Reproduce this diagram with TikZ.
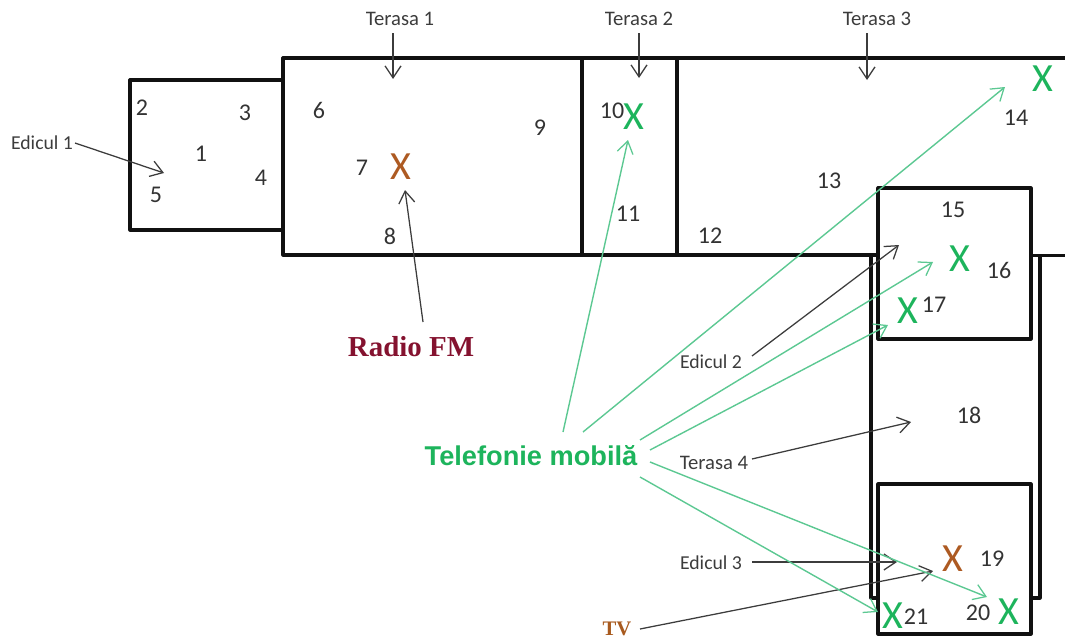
\documentclass[tikz,border=0pt]{standalone}
\usepackage{fontspec}
\setmainfont{Carlito}
\newfontfamily\arialf{Liberation Sans}
\newfontfamily\timesf{Liberation Serif}
\usetikzlibrary{arrows.meta}
\definecolor{wall}{HTML}{111111}
\definecolor{ink}{HTML}{3C3C3C}
\definecolor{numink}{HTML}{333333}
\definecolor{telgreen}{HTML}{5CC892}
\definecolor{xgreen}{HTML}{1DB45C}
\definecolor{xbrown}{HTML}{AD5A22}
\definecolor{tvbrown}{HTML}{A85A1E}
\definecolor{fmred}{HTML}{84122F}
\tikzset{
  x=0.75pt,y=-0.75pt,
  wallline/.style={draw=wall,line width=2.4pt,line join=round},
  thinwall/.style={draw=wall,line width=2.4pt,line join=round},
  stubwall/.style={draw=wall,line width=1.7pt},
  num/.style={text=numink,font=\fontsize{18}{19}\selectfont,inner sep=0pt,yshift=0.5pt},
  lab/.style={text=ink,font=\fontsize{14.8}{16}\selectfont,inner sep=0pt},
  terlab/.style={text=ink,font=\fontsize{15.5}{16}\selectfont,inner sep=0pt},
  markg/.style={text=xgreen,font=\fontsize{30}{31}\selectfont,inner sep=0pt},
  markb/.style={text=xbrown,font=\fontsize{30}{31}\selectfont,inner sep=0pt},
  blackarrow/.style={draw=ink,line width=0.95pt,-{Straight Barb[length=9pt,width=12pt,line width=0.95pt]}},
  greenarrow/.style={draw=telgreen,line width=1.05pt,-{Straight Barb[length=9pt,width=12pt,line width=0.95pt]}},
}
\begin{document}
\begin{tikzpicture}
\useasboundingbox (0,0) rectangle (1065,639);
% walls
\draw[wallline] (283,80) -- (130,80) -- (130,230) -- (283,230);
\draw[wallline] (1065,58) -- (283,58) -- (283,255) -- (878,255);
\draw[stubwall] (1031,255.5) -- (1065,255.5);
\draw[thinwall] (582,58) -- (582,255);
\draw[thinwall] (677,58) -- (677,255);
\draw[thinwall] (878,598) -- (871,598) -- (871,255);
\draw[thinwall] (1031,598) -- (1040,598) -- (1040,255);
\draw[wallline,fill=none] (878,188) rectangle (1031,339);
\draw[wallline,fill=none] (878,484) rectangle (1031,634);
% room numbers
\foreach \n/\px/\py in {1/201/154,2/142/108,3/245/113,4/261/178,5/156/196,6/319/111,7/362/168,8/390/237,9/540/128,10/612/111,11/628/214,12/710/236,13/829/181,14/1016/118,15/953/211,16/999/271,17/934/305,18/969/416,19/992/559,20/978/613,21/916/617}
  \node[num] (n\n) at (\px,\py) {\n};
% marks
\node[markb] (fmx) at (401,167) {X};
\node[markg] (gx1) at (634,117) {X};
\node[markg] (gx2) at (1043,79) {X};
\node[markg] (gx3) at (960,259) {X};
\node[markg] (gx4) at (908,311) {X};
\node[markb] (tvx) at (953,559) {X};
\node[markg] (gx5) at (893,616) {X};
\node[markg] (gx6) at (1009,612) {X};
% labels
\node[lab] (e1) at (42,143) {Edicul 1};
\node[terlab] (t1) at (400,19) {Terasa 1};
\node[terlab] (t2) at (639,19) {Terasa 2};
\node[terlab] (t3) at (877,19) {Terasa 3};
\node[lab] (e2) at (711,362) {Edicul 2};
\node[terlab] (t4) at (714,463) {Terasa 4};
\node[lab] (e3) at (711,563) {Edicul 3};
\node[inner sep=0pt,text=fmred,font=\timesf\bfseries\fontsize{21.7}{22}\selectfont] (fm) at (411,347) {Radio FM};
\node[inner sep=0pt,text=xgreen,font=\arialf\bfseries\fontsize{20.4}{21}\selectfont] (tel) at (531,456) {Telefonie mobilă};
\node[inner sep=0pt,text=tvbrown,font=\timesf\bfseries\fontsize{15.5}{16}\selectfont] (tv) at (617,629) {TV};
% arrow targets
\coordinate (ae1) at (164,173);
\coordinate (at1) at (393,79);
\coordinate (at2) at (639,78);
\coordinate (at3) at (867,80);
\coordinate (afm) at (405,190);
\coordinate (ae2) at (899,245);
\coordinate (at4) at (911,422);
\coordinate (ae3) at (897,562);
\coordinate (atv) at (933,571);
\coordinate (g1) at (628,140);
\coordinate (g2) at (1005,87);
\coordinate (g3) at (933,262);
\coordinate (g4) at (888,325);
\coordinate (g5) at (987,597);
\coordinate (g6) at (878,612);
% black connectors
\draw[blackarrow] ([shift={(33,0)}]e1.center) -- (ae1);
\draw[blackarrow] ([shift={(-7,14)}]t1.center) -- (at1);
\draw[blackarrow] ([shift={(0,14)}]t2.center) -- (at2);
\draw[blackarrow] ([shift={(-10,14)}]t3.center) -- (at3);
\draw[blackarrow] ([shift={(12,-25)}]fm.center) -- (afm);
\draw[blackarrow] ([shift={(41,-6)}]e2.center) -- (ae2);
\draw[blackarrow] ([shift={(38,-4)}]t4.center) -- (at4);
\draw[blackarrow] ([shift={(41,-1)}]e3.center) -- (ae3);
\draw[blackarrow] ([shift={(23,0)}]tv.center) -- (atv);
% green connectors
\draw[greenarrow] ([shift={(32,-24)}]tel.center) -- (g1);
\draw[greenarrow] ([shift={(52,-24)}]tel.center) -- (g2);
\draw[greenarrow] ([shift={(109,-16)}]tel.center) -- (g3);
\draw[greenarrow] ([shift={(119,-6)}]tel.center) -- (g4);
\draw[greenarrow] ([shift={(119,6)}]tel.center) -- (g5);
\draw[greenarrow] ([shift={(109,21)}]tel.center) -- (g6);
\end{tikzpicture}
\end{document}
